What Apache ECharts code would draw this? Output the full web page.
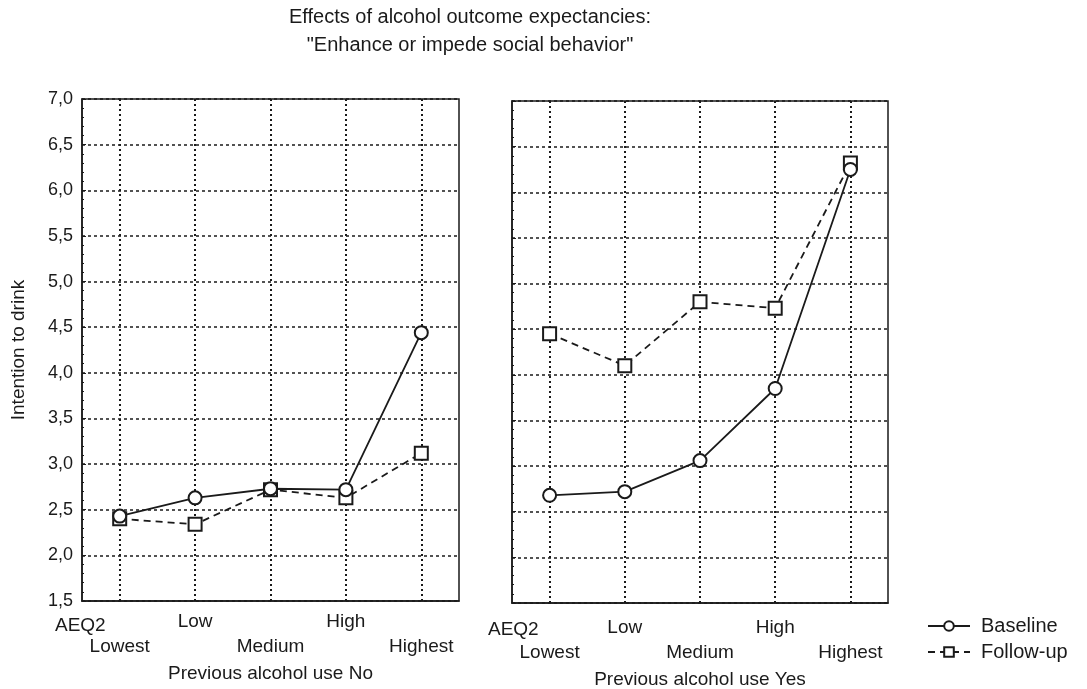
<!DOCTYPE html>
<html>
<head>
<meta charset="utf-8">
<script src="https://cdn.jsdelivr.net/npm/echarts@6/dist/echarts.min.js"></script>
<style>
html,body{margin:0;padding:0;background:#fff;}
#main{width:1087px;height:689px;}
</style>
</head>
<body>
<div id="main"></div>
<script>
var categories = ['Lowest', 'Low', 'Medium', 'High', 'Highest'];
var baselineNo = [2.43, 2.63, 2.73, 2.72, 4.44];
var followupNo = [2.40, 2.34, 2.72, 2.63, 3.12];
var baselineYes = [2.68, 2.72, 3.06, 3.85, 6.25];
var followupYes = [4.45, 4.10, 4.80, 4.73, 6.32];
var yMin = 1.5, yMax = 7.0, yStep = 0.5;

var FONT = '"Liberation Sans", Arial, sans-serif';
var ink = '#1a1a1a';

function xAxis(gridIndex, name, shift) {
  return {
    type: 'category', gridIndex: gridIndex, data: categories, boundaryGap: true,
    name: name, nameLocation: 'middle', nameGap: 63 + shift,
    nameTextStyle: {fontFamily: FONT, fontSize: 19, color: ink},
    axisLine: {show: true, lineStyle: {color: ink, width: 1.5}},
    axisTick: {show: false},
    axisLabel: {
      interval: 0, fontFamily: FONT, fontSize: 19, color: ink, lineHeight: 25, margin: 8 + shift,
      formatter: function (v, i) { return (i % 2 === 1) ? v + '\n ' : ' \n' + v; }
    },
    splitLine: {show: true, alignWithLabel: true, lineStyle: {color: ink, type: [2, 3], width: 2}}
  };
}
function yAxis(gridIndex, showLabels) {
  return {
    type: 'value', gridIndex: gridIndex, min: yMin, max: yMax, interval: yStep,
    name: showLabels ? 'Intention to drink' : '', nameLocation: 'middle', nameGap: 54,
    nameTextStyle: {fontFamily: FONT, fontSize: 19, color: ink},
    axisLine: {show: true, lineStyle: {color: ink, width: 1.5}},
    axisTick: {show: true, inside: true, length: 4, lineStyle: {color: ink}},
    minorTick: {show: true, splitNumber: 5, length: 2, lineStyle: {color: ink}},
    axisLabel: {show: showLabels, fontFamily: FONT, fontSize: 18, color: ink, margin: 9,
      formatter: function (v) { return v.toFixed(1).replace('.', ','); }},
    splitLine: {show: true, lineStyle: {color: ink, type: [3, 3], width: 1.5}}
  };
}
function series(name, data, idx, dashed, symbol) {
  return {
    name: name, type: 'line', xAxisIndex: idx, yAxisIndex: idx, data: data,
    symbol: symbol, symbolSize: 13, showSymbol: true,
    lineStyle: {color: ink, width: 1.8, type: dashed ? [7, 5] : 'solid'},
    itemStyle: {color: '#fff', borderColor: ink, borderWidth: 2},
    z: dashed ? 3 : 4
  };
}

var chart = echarts.init(document.getElementById('main'), null, {renderer: 'canvas'});
chart.setOption({
  backgroundColor: '#fff',
  animation: false,
  title: [
    {text: 'Effects of alcohol outcome expectancies:\n"Enhance or impede social behavior"',
     left: 470, top: 3, padding: 0, textAlign: 'center',
     textStyle: {fontFamily: FONT, fontSize: 20, fontWeight: 'normal', color: ink, lineHeight: 28}},
    {text: 'AEQ2', left: 50, top: 611, textStyle: {fontFamily: FONT, fontSize: 19, fontWeight: 'normal', color: ink}},
    {text: 'AEQ2', left: 483, top: 615, textStyle: {fontFamily: FONT, fontSize: 19, fontWeight: 'normal', color: ink}}
  ],
  legend: {
    orient: 'vertical', left: 922, top: 611, itemGap: 6, itemWidth: 42, itemHeight: 12,
    textStyle: {fontFamily: FONT, fontSize: 20, color: ink, padding: [0, 0, 0, 6]},
    data: ['Baseline', 'Follow-up']
  },
  grid: [
    {left: 82, right: 628, top: 99, bottom: 88, show: true, borderColor: ink, borderWidth: 1.5,
     containLabel: false, outerBoundsMode: 'none'},
    {left: 512, right: 199, top: 101, bottom: 86, show: true, borderColor: ink, borderWidth: 1.5,
     containLabel: false, outerBoundsMode: 'none'}
  ],
  xAxis: [xAxis(0, 'Previous alcohol use No', 0), xAxis(1, 'Previous alcohol use Yes', 4)],
  yAxis: [yAxis(0, true), yAxis(1, false)],
  series: [
    series('Baseline', baselineNo, 0, false, 'circle'),
    series('Follow-up', followupNo, 0, true, 'rect'),
    series('Baseline', baselineYes, 1, false, 'circle'),
    series('Follow-up', followupYes, 1, true, 'rect')
  ]
});
</script>
</body>
</html>
